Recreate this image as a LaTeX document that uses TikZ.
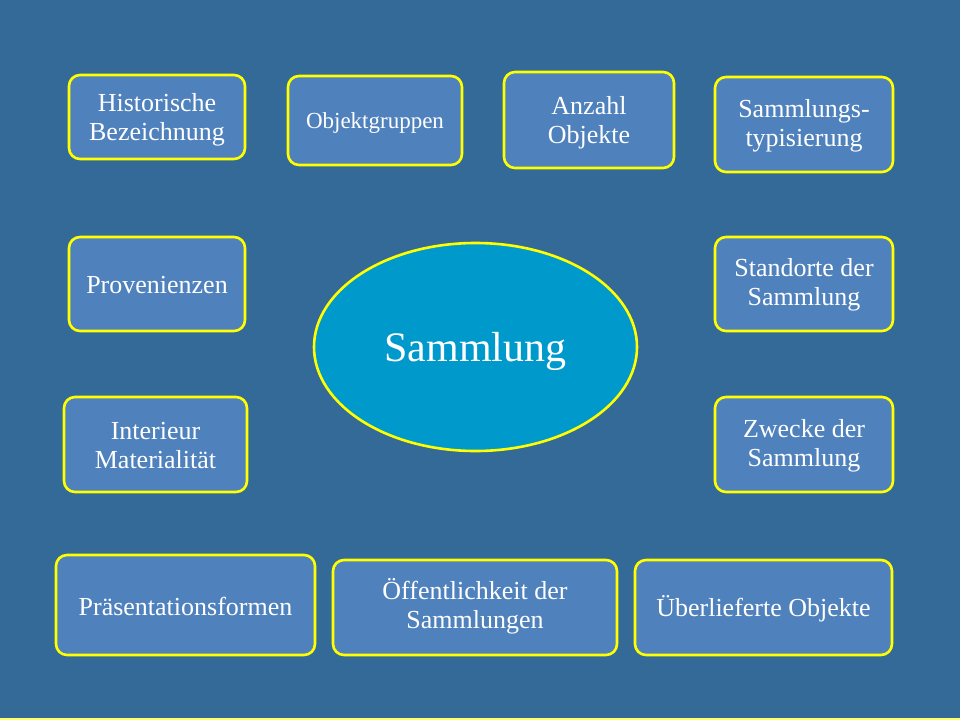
\documentclass[tikz,border=0pt]{standalone}
\usepackage{fontspec}
\setmainfont{Liberation Serif}
\usetikzlibrary{shapes.geometric}
\definecolor{bgblue}{HTML}{346A97}
\definecolor{boxblue}{HTML}{4F81BD}
\definecolor{ellblue}{HTML}{0099CC}
\definecolor{ylw}{HTML}{FFFF00}
\tikzset{
  box/.style={draw=ylw, line width=2.6pt, fill=boxblue, rounded corners=11pt, inner sep=0pt},
  txt/.style={text=white, align=center, inner sep=0pt, font=\fontsize{26}{29}\selectfont},
}
\begin{document}
\begin{tikzpicture}[x=1pt,y=-1pt]
\fill[bgblue] (0,0) rectangle (960,720);
\useasboundingbox (0,0) rectangle (960,720);
\fill[ylw!60!white] (0,717.5) rectangle (960,720);
\node[box, minimum width=176pt, minimum height=84pt] (hist) at (157,117) {};
\node[txt] (histT) at ([yshift=-3pt]hist.center) {Historische\\Bezeichnung};
\node[box, minimum width=174pt, minimum height=89pt] (obj) at (375,120.5) {};
\node[txt, font=\fontsize{23}{26}\selectfont] (objT) at ([yshift=-3pt]obj.center) {Objektgruppen};
\node[box, minimum width=170pt, minimum height=96pt] (anz) at (589,120) {};
\node[txt] (anzT) at ([yshift=-3pt]anz.center) {Anzahl\\Objekte};
\node[box, minimum width=178pt, minimum height=95pt] (typ) at (804,124.5) {};
\node[txt] (typT) at ([yshift=-1pt]typ.center) {Sammlungs-\\typisierung};
\node[box, minimum width=176pt, minimum height=94pt] (prov) at (157,284) {};
\node[txt] (provT) at ([yshift=-1pt]prov.center) {Provenienzen};
\node[box, minimum width=178pt, minimum height=94pt] (stand) at (804,284) {};
\node[txt] (standT) at ([yshift=-1pt]stand.center) {Standorte der\\Sammlung};
\node[box, minimum width=183pt, minimum height=95pt] (int) at (155.5,444.5) {};
\node[txt] (intT) at ([yshift=-1pt]int.center) {Interieur\\Materialität};
\node[box, minimum width=178pt, minimum height=95pt] (zweck) at (804,444.5) {};
\node[txt] (zweckT) at ([yshift=-1pt]zweck.center) {Zwecke der\\Sammlung};
\node[box, minimum width=259pt, minimum height=100pt] (praes) at (185.5,605) {};
\node[txt] (praesT) at ([yshift=-1pt]praes.center) {Präsentationsformen};
\node[box, minimum width=284pt, minimum height=95pt] (oeff) at (475,607.5) {};
\node[txt] (oeffT) at ([yshift=1pt]oeff.center) {Öffentlichkeit der\\Sammlungen};
\node[box, minimum width=257pt, minimum height=95pt] (ueber) at (763.5,607.5) {};
\node[txt] (ueberT) at ([yshift=-1pt]ueber.center) {Überlieferte Objekte};
\node[ellipse, draw=ylw, line width=2.6pt, fill=ellblue, inner sep=0pt,
  minimum width=323pt, minimum height=208pt] (samm) at (475.5,347) {};
\node[txt, font=\fontsize{42}{46}\selectfont] (sammT) at ([yshift=-4pt]samm.center) {Sammlung};
\end{tikzpicture}
\end{document}
